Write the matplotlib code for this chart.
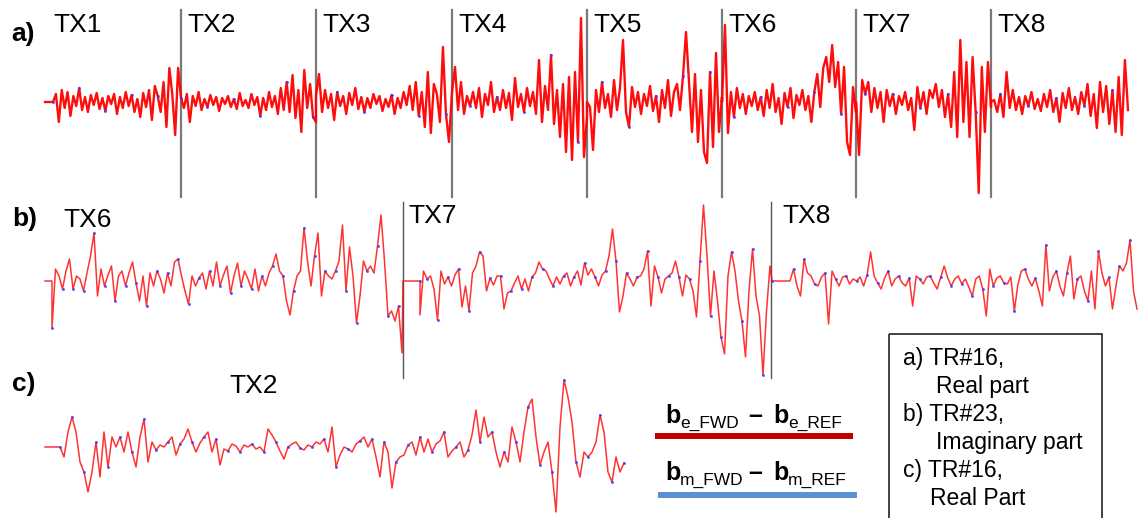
import numpy as np
import matplotlib.pyplot as plt
from matplotlib.patches import Rectangle

plt.rcParams['font.family'] = ['Liberation Sans', 'DejaVu Sans']

# residual traces b_FWD - b_REF, amplitude in arbitrary units (positive = up)
# a) TR#16, real part, transmitters TX1..TX8
a_tx1 = [0, 8, -20, 12, -6, 10, -14, 6, -4, 14, -8, 5, -10, 7, -3, 9, -7, 4, -9, 6, -2, 8, -12, 5, -6,
         10, -4, 7, -10, 3, -15, 9, -5, 12, -18, 16, 6, -10, 20, -25, 34, 8, -33, 34, 5]
a_tx2 = [4, -6, 8, -20, 6, -4, 10, -8, 3, -5, 7, -3, 5, -9, 4, -2, 6, -5, 3, -7, 9, -4, 2, -6, 8, -3,
         5, -14, 4, -8, 10, -5, 6, -12, 14, -8, 20, -10, 27, -16, 12, -30, 32, -6, 18, -15, -20]
a_tx3 = [6, 28, -10, 12, -6, 8, -18, 10, -4, 6, -12, 9, -3, 14, -7, 5, -10, 4, -6, 8, -2, 6, -9, 3, -5,
         7, -12, 4, -6, 10, -3, 16, -8, 20, -14, 10, -25, 30, -31, 18, 8, -20, 55, -12, -40, 10]
a_tx4 = [10, 35, -8, 20, -12, 6, -4, 10, -6, 14, -15, 8, -3, 20, -10, 5, -8, 12, -6, 9, -18, 24, -5, 8,
         -10, 14, -4, 10, -12, 42, -20, 16, -8, 47, -22, 12, -35, 18, -50, 25, -58, 30, -40, 84, -55, -15]
a_tx5 = [0, -5, -48, 12, -10, 20, -6, 8, -15, 22, -8, 14, 62, -10, -25, 15, -5, 10, -12, 8, -4, 16, -9,
         6, -20, 12, -6, 22, -14, 10, 18, -8, 26, 70, 20, -30, 28, -40, 12, -50, -61, 30, -45, 49, -30, 5]
a_tx6 = [0, 77, -31, 10, -15, 14, -6, 8, -12, 6, -4, 10, -8, 5, -14, 12, -6, 18, -10, 4, -22, 9, -5, 14,
         -16, 7, -3, 12, -8, 6, -20, 10, 28, -5, 34, 45, 20, 57, 15, 40, -12, 35, -40, -53, 15, -10]
a_tx7 = [0, -53, 22, 8, 20, -10, 14, -6, 10, -20, 12, -4, 8, -12, 6, -3, 10, -8, 4, -28, 15, -6, 10, -12,
         12, 4, 18, -5, 12, -15, 8, -25, 30, -35, 62, -20, 40, -35, 45, -10, -91, 35, -30, 40, -5]
a_tx8 = [0, 2, -10, 8, -15, 30, -6, 12, -8, 5, -12, 6, -4, 10, -7, 3, -9, 8, -5, 12, -10, 4, -20, 9, -6,
         14, -8, 5, -12, 10, -4, 18, -14, 8, -26, 20, -10, 16, -22, 12, -30, 25, -33, 42, -8]

# b) TR#23, imaginary part, TX6..TX8
b_tx6 = [-47, 12, 5, -8, 10, 22, -8, 5, 2, -10, 8, 25, 48, -15, 12, -5, 6, 15, -20, 5, 10, -5, 8, 19,
         -2, -20, 5, -25, 8, -5, 10, 2, -12, 8, -5, 19, 22, 5, -10, -23, 5, -5, 3, 8, -8, 10, -5, 19,
         -5, 6, 15, -12, 5, 18, -5, 10, 2, -8, 12, -10, 5, -5, 8, 15, 27, 10, 5, -20, -34, -10, 5, 10,
         53, 20, -5, 25, 48, -15, 10, 5, 2, 10, 20, 56, -10, 34, 5, -42, -15, 20, 10, 15, 8, 35, 66,
         20, -35, -30, -40, -25, -72]
b_tx7 = [-34, 10, 2, 5, -8, -39, 10, -3, 4, -5, 6, 12, -26, -5, -30, 8, 15, 29, 25, -10, 3, -4, 5, 5,
         -28, -12, -10, -2, 5, -8, 2, -10, 4, 8, 19, 12, 10, 2, -5, 4, -3, 5, 8, -5, 4, 10, -4, 18, 6,
         12, 4, -5, 6, 10, 25, 52, 20, -31, -15, 8, 2, -5, 4, 5, 12, 30, -25, 15, 4, -12, 2, 5, 8, 20,
         4, -15, 6, 2, -10, -36, 20, 76, 25, -35, 10, -20, -56, -73, 5, 29, 10, -20, -40, -76, -10, 32,
         -15, -35, -94, -30, 15]
b_tx8 = [0, 12, -5, -15, 22, 8, 5, -3, -5, 4, 8, -43, 10, 2, -5, 4, 5, -3, 2, 0, 4, -5, 6, 29, 5, -2,
         -8, 3, 10, -5, 2, 5, -2, -5, 3, -25, 5, 2, -3, 4, 5, -2, -8, 4, 15, 3, -5, 2, 5, -3, 2, -6, -15,
         2, 5, -8, -35, 12, -5, 3, 5, -2, -3, 4, -30, -4, 10, 12, 2, -5, 3, -10, -25, 36, -10, 4, 10, -5,
         -15, 8, 25, -18, 2, 5, -10, -20, 10, -28, 30, 8, -5, 4, -28, -5, 15, 10, 18, 41, -10, -28]

# c) TR#16, real part, TX2
c_tx2 = [0, -10, 15, 30, 15, -15, -25, -45, -25, 5, -30, 15, -20, 10, 0, 10, -5, 15, -5, -20, 10, 28,
         -15, 5, -3, 2, 0, 5, 10, -8, 3, 8, 18, 5, -5, 4, 10, 15, -5, 8, -18, -2, -4, 3, 1, -5, 2, 0, 3,
         -2, 0, -5, 18, 12, 5, -4, -12, 0, 3, 5, -1, -3, 2, 0, 5, 3, 8, -5, 20, -20, -8, 0, -2, -5, 3, 6,
         10, 0, 8, -10, -30, 5, -5, -41, -15, -10, -8, 2, 5, -8, 10, -5, 8, -5, 3, 6, 15, -10, -4, 0, 5,
         -10, -3, 12, 37, 5, 30, 10, 15, -5, -20, -5, -15, 20, 5, -15, 15, 40, 48, 10, -18, -5, 5, -25,
         -65, 20, 67, 50, 25, -15, -30, -5, -10, -5, 5, 32, 15, -25, -35, -10, -25, -16]

a_names = ['TX1', 'TX2', 'TX3', 'TX4', 'TX5', 'TX6', 'TX7', 'TX8']
b_names = ['TX6', 'TX7', 'TX8']
c_names = ['TX2']
note_lines = ['a) TR#16,', 'Real part', 'b) TR#23,', 'Imaginary part', 'c) TR#16,', 'Real Part']

RED = '#ff0000'
DOT = '#3a3aff'
GREY = '#7a7a7a'

fig = plt.figure(figsize=(11.4, 5.18), dpi=100)
ax = fig.add_axes([0, 0, 1, 1])
ax.set_xlim(0, 1140)
ax.set_ylim(518, 0)
ax.axis('off')


def trace(parts, base, lw, every, alpha):
    xs, ys = [], []
    for x0, x1, vals in parts:
        v = np.asarray(vals, float)
        xs.append(np.linspace(x0, x1, len(v)))
        ys.append(base - v)
    x = np.concatenate(xs)
    y = np.concatenate(ys)
    ax.plot(x, y, color=RED, lw=lw, zorder=3, alpha=alpha)
    ax.plot(x[2::every], y[2::every], ls='none', marker='o', ms=1.2, color=DOT, alpha=0.7, zorder=4)


# ---- a) ----
a_bounds = [53, 181, 316, 452, 587, 722, 856, 991, 1128]
a_series = [a_tx1, a_tx2, a_tx3, a_tx4, a_tx5, a_tx6, a_tx7, a_tx8]
parts = [(45, 53, [0, 0])]
for i, s in enumerate(a_series):
    parts.append((a_bounds[i], a_bounds[i + 1], s))
trace(parts, 102, 1.7, 9, 0.95)
for xb in a_bounds[1:-1]:
    ax.plot([xb, xb], [10, 197], color=GREY, lw=1.6, zorder=2)
for i, name in enumerate(a_names):
    ax.text(a_bounds[i] + (0 if i == 0 else 6), 32, name, fontsize=19, va='baseline')
ax.text(11, 41, 'a)', fontsize=19, fontweight='bold', va='baseline')

# ---- b) ----
parts = [(45, 52, [0, 0]), (52, 402, b_tx6), (403, 420, [0, 0]), (420, 770, b_tx7),
         (772, 790, [0, 0]), (790, 1137, b_tx8)]
trace(parts, 281, 1.1, 3, 0.8)
for xb in [403, 771]:
    ax.plot([xb, xb], [202, 378], color='#555555', lw=1.0, zorder=2)
ax.text(63, 227, b_names[0], fontsize=19, va='baseline')
ax.text(408, 223, b_names[1], fontsize=19, va='baseline')
ax.text(782, 223, b_names[2], fontsize=19, va='baseline')
ax.text(12, 226, 'b)', fontsize=19, fontweight='bold', va='baseline')

# ---- c) ----
parts = [(45, 60, [0, 0]), (60, 624, c_tx2)]
trace(parts, 447, 1.1, 3, 0.8)
ax.text(229, 393, c_names[0], fontsize=19, va='baseline')
ax.text(12, 391, 'c)', fontsize=19, fontweight='bold', va='baseline')

# ---- colour key ----
for yb, sub, col, x0, x1, yl in [(423, 'e', '#c00000', 655, 853, 436),
                                 (480, 'm', '#5b8fd6', 658, 857, 495)]:
    ax.text(665, yb, 'b', fontsize=18, fontweight='bold', va='baseline')
    ax.text(680, yb + 5, sub + '_FWD', fontsize=12.5, va='baseline')
    ax.text(748, yb, '\u2013', fontsize=18, fontweight='bold', va='baseline')
    ax.text(773, yb, 'b', fontsize=18, fontweight='bold', va='baseline')
    ax.text(788, yb + 5, sub + '_REF', fontsize=12.5, va='baseline')
    ax.plot([x0, x1], [yl, yl], color=col, lw=4.3, solid_capstyle='butt')

# ---- notes box ----
ax.add_patch(Rectangle((889, 334), 213, 200, fill=False, lw=1.2, ec='#222222'))
for i, line in enumerate(note_lines):
    xt = 903 if i % 2 == 0 else (930 if i == 5 else 936)
    ax.text(xt, 365 + i * 28, line, fontsize=16.5, va='baseline')

fig.savefig('out.png', dpi=100)
